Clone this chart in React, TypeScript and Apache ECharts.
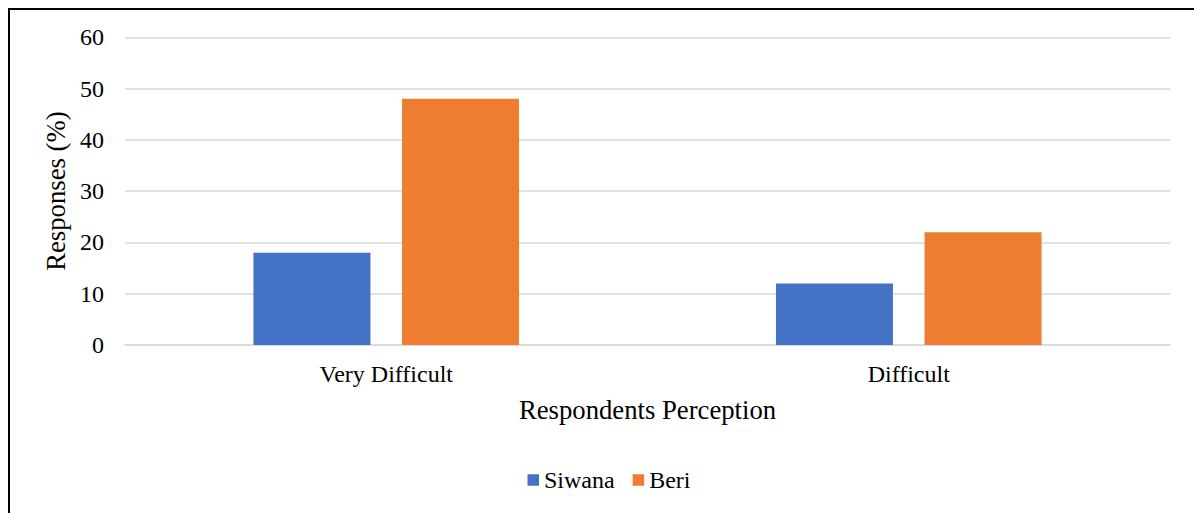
import React, { useEffect, useRef } from "react";
import * as echarts from "echarts";

const categories = ["Very Difficult", "Difficult"];
const siwana = [18, 12];
const beri = [48, 22];
const seriesNames = ["Siwana", "Beri"];

const FONT = "Liberation Serif";

export default function App() {
  const ref = useRef<HTMLDivElement>(null);
  useEffect(() => {
    if (!ref.current) return;
    const chart = echarts.init(ref.current, undefined, { renderer: "svg" });
    chart.setOption({
      animation: false,
      grid: { left: 115, top: 27.3, width: 1045, height: 307.7, containLabel: false },
      legend: {
        data: seriesNames,
        left: 512.5,
        top: 453,
        itemWidth: 11.5,
        itemHeight: 11.5,
        itemGap: 18,
        icon: "rect",
        textStyle: { fontFamily: FONT, fontSize: 24, color: "#000" },
      },
      xAxis: {
        type: "category",
        data: categories,
        name: "Respondents Perception",
        nameLocation: "middle",
        nameGap: 51,
        nameTextStyle: { fontFamily: FONT, fontSize: 26.7, color: "#000" },
        axisLine: { show: true, lineStyle: { color: "#d9d9d9", width: 1.5 } },
        axisTick: { show: false },
        axisLabel: { fontFamily: FONT, fontSize: 24, color: "#000", margin: 17 },
      },
      yAxis: {
        type: "value",
        min: 0,
        max: 60,
        interval: 10,
        name: "Responses (%)",
        nameLocation: "middle",
        nameGap: 54,
        nameTextStyle: { fontFamily: FONT, fontSize: 26.7, color: "#000" },
        axisLine: { show: false },
        axisTick: { show: false },
        axisLabel: { fontFamily: FONT, fontSize: 24, color: "#000", margin: 21 },
        splitLine: { lineStyle: { color: "#d9d9d9", width: 1.5 } },
      },
      series: [
        {
          name: seriesNames[0],
          type: "bar",
          data: siwana,
          barWidth: 117,
          barGap: "27%",
          itemStyle: { color: "#4472c4" },
        },
        {
          name: seriesNames[1],
          type: "bar",
          data: beri,
          barWidth: 117,
          barGap: "27%",
          itemStyle: { color: "#ed7d31" },
        },
      ],
    });
    return () => chart.dispose();
  }, []);
  return (
    <div
      style={{
        position: "fixed",
        left: 8,
        top: 8,
        width: 1194,
        height: 514,
        border: "2px solid #000",
        boxSizing: "border-box",
        background: "#fff",
      }}
    >
      <div ref={ref} style={{ position: "absolute", left: 0, top: 0, width: 1190, height: 510 }} />
    </div>
  );
}
